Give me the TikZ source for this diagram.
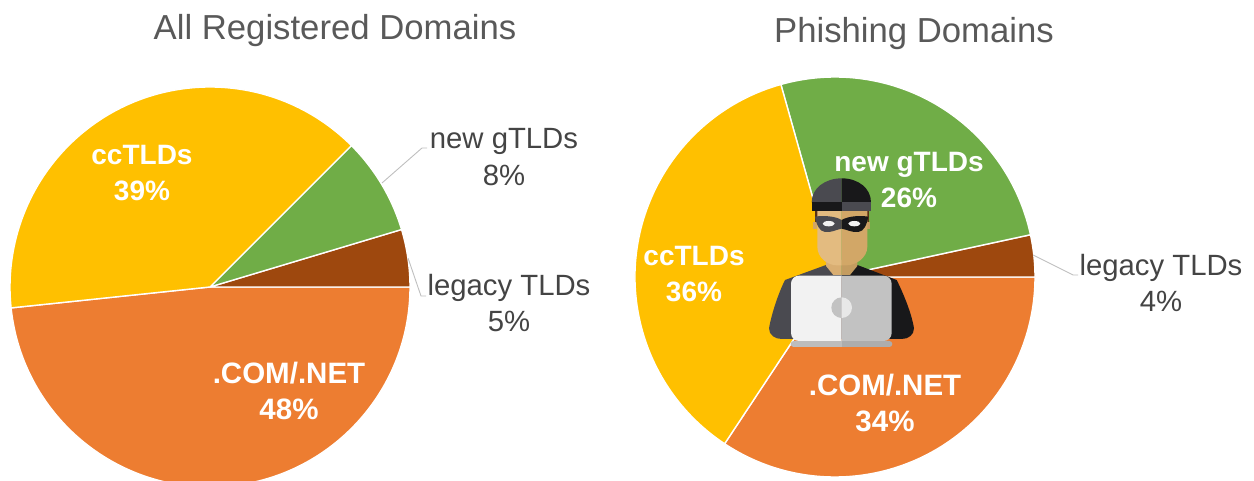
\documentclass[tikz,border=0pt]{standalone}
\usepackage{fontspec}
\setmainfont{Liberation Sans}
\definecolor{ptgreen}{HTML}{70AD47}
\definecolor{ptyellow}{HTML}{FFC000}
\definecolor{ptorange}{HTML}{ED7D31}
\definecolor{ptbrown}{HTML}{9E480E}
\definecolor{txtgray}{HTML}{444444}
\definecolor{ttlgray}{HTML}{595959}
\definecolor{leadgray}{HTML}{BFBFBF}
\definecolor{figdark}{HTML}{4A4A50}
\definecolor{figblack}{HTML}{18181A}
\definecolor{skinlight}{HTML}{E3BB80}
\definecolor{skindark}{HTML}{D2A767}
\definecolor{necklight}{HTML}{D9AE72}
\definecolor{neckdark}{HTML}{C49C60}
\definecolor{hairbrown}{HTML}{5A3214}
\definecolor{lapl}{HTML}{F2F2F2}
\definecolor{lapr}{HTML}{C2C2C2}
\definecolor{lapc}{HTML}{E8E8E8}
\definecolor{basel}{HTML}{BDBDBD}
\definecolor{baser}{HTML}{ADADAD}
\tikzset{
  x=1pt,y=1pt,
  slice/.style={draw=white,line width=1.4pt,line join=round},
  pietitle/.style={text=ttlgray,font=\fontsize{34.7}{40}\selectfont,inner sep=0pt},
  outlabel/.style={text=txtgray,font=\fontsize{29.3}{36.5}\selectfont,align=center,inner sep=0pt},
  inlabel/.style={text=white,font=\bfseries\fontsize{28}{36.5}\selectfont,align=center,inner sep=0pt},
  comlabel/.style={inlabel,font=\bfseries\fontsize{29.5}{36.5}\selectfont},
  leader/.style={draw=leadgray,line width=0.9pt},
}
\newcommand{\pieslice}[5]{% colour, centre, r, from, to
  \path[slice,fill=#1] (#2) -- ++(#4:#3) arc (#4:#5:#3) -- cycle;}
\begin{document}
\begin{tikzpicture}
\useasboundingbox (0,0) rectangle (1254,481);
\clip (0,0) rectangle (1254,481);
\coordinate (cl) at (210,194);
\coordinate (cr) at (835,204);
% left pie
\pieslice{ptorange}{cl}{200}{-174}{0}
\pieslice{ptbrown}{cl}{200}{0}{16.7}
\pieslice{ptgreen}{cl}{200}{16.7}{45}
\pieslice{ptyellow}{cl}{200}{45}{186}
% right pie
\pieslice{ptorange}{cr}{200}{-123.5}{0}
\pieslice{ptbrown}{cr}{200}{0}{12.2}
\pieslice{ptgreen}{cr}{200}{12.2}{105.7}
\pieslice{ptyellow}{cr}{200}{105.7}{236.5}
% titles
\node[pietitle] (t1) at (335,450) {All Registered Domains};
\node[pietitle] (t2) at (914,447) {Phishing Domains};
% labels
\node[inlabel] (l1) at (142,308) {ccTLDs\\39\%};
\node[outlabel] (l2) at (504,324) {new gTLDs\\8\%};
\node[outlabel] (l3) at (509,178) {legacy TLDs\\5\%};
\node[comlabel] (l4) at (289,90) {.COM/.NET\\48\%};
\node[inlabel] (r1) at (909,301) {new gTLDs\\26\%};
\node[inlabel] (r2) at (694,207) {ccTLDs\\36\%};
\node[outlabel] (r3) at (1161,198) {legacy TLDs\\4\%};
\node[comlabel] (r4) at (885,78) {.COM/.NET\\34\%};
% leaders
\coordinate (a1) at (382,298); \coordinate (b1) at (422,333); \coordinate (c1) at (427,333);
\coordinate (a2) at (408,223); \coordinate (b2) at (421,185); \coordinate (c2) at (426,185);
\coordinate (a3) at (1033,226); \coordinate (b3) at (1073,206); \coordinate (c3) at (1078,206);
\draw[leader] (a1) -- (b1) -- (c1);
\draw[leader] (a2) -- (b2) -- (c2);
\draw[leader] (a3) -- (b3) -- (c3);
% thief
\begin{scope}[shift={(740,321)},xscale=1/3,yscale=-1/3]
  % body
  \fill[figdark] (305,345) -- (258,315) -- (135,360) .. controls (115,400) and (95,460) .. (87,505)
     .. controls (87,525) and (105,537) .. (125,537) -- (305,537) -- cycle;
  \fill[figblack] (305,345) -- (352,315) -- (470,360) .. controls (490,400) and (515,460) .. (522,505)
     .. controls (522,525) and (505,537) .. (485,537) -- (305,537) -- cycle;
  % neck
  \fill[necklight] (258,300) -- (258,318) -- (280,345) -- (305,345) -- (305,300) -- cycle;
  \fill[neckdark] (352,300) -- (352,318) -- (330,345) -- (305,345) -- (305,300) -- cycle;
  % hair and ears
  \fill[hairbrown] (224,150) rectangle (236,190);
  \fill[hairbrown] (374,150) rectangle (386,190);
  \fill[skindark] (220,185) rectangle (232,208);
  \fill[neckdark] (378,185) rectangle (390,208);
  % face
  \fill[skinlight] (305,150) -- (232,150) -- (232,260)
    .. controls (232,295) and (265,316) .. (290,316) -- (305,316) -- cycle;
  \fill[skindark] (305,150) -- (382,150) -- (382,260)
    .. controls (382,295) and (345,316) .. (320,316) -- (305,316) -- cycle;
  % mask
  \fill[figdark] (225,170) .. controls (250,166) and (285,168) .. (305,180) -- (305,206)
    .. controls (285,210) and (275,218) .. (255,216) .. controls (238,214) and (230,195) .. (225,170) -- cycle;
  \fill[figblack] (385,170) .. controls (360,166) and (325,168) .. (305,180) -- (305,206)
    .. controls (325,210) and (335,218) .. (355,216) .. controls (372,214) and (380,195) .. (385,170) -- cycle;
  \fill[lapl] (266,191) ellipse (18 and 8);
  \fill[lapl] (343,191) ellipse (18 and 8);
  % hat
  \fill[figdark] (305,55) .. controls (255,55) and (215,85) .. (215,127) -- (305,127) -- cycle;
  \fill[figblack] (305,55) .. controls (355,55) and (393,85) .. (393,127) -- (305,127) -- cycle;
  \fill[figblack] (215,127) rectangle (305,154);
  \fill[figdark] (305,127) rectangle (393,154);
  % laptop base
  \fill[basel,rounded corners=3pt] (152,543) rectangle (320,561);
  \fill[baser,rounded corners=3pt] (290,543) rectangle (457,561);
  \fill[basel] (280,543) rectangle (305,561);
  % laptop lid
  \begin{scope}
    \clip (100,300) rectangle (305,600);
    \fill[lapl,rounded corners=8pt] (153,347) rectangle (455,543);
  \end{scope}
  \begin{scope}
    \clip (305,300) rectangle (500,600);
    \fill[lapr,rounded corners=8pt] (153,347) rectangle (455,543);
  \end{scope}
  \fill[lapr] (305,474) arc (90:270:31) -- cycle;
  \fill[lapc] (305,474) arc (90:-90:31) -- cycle;
\end{scope}
\end{tikzpicture}
\end{document}
